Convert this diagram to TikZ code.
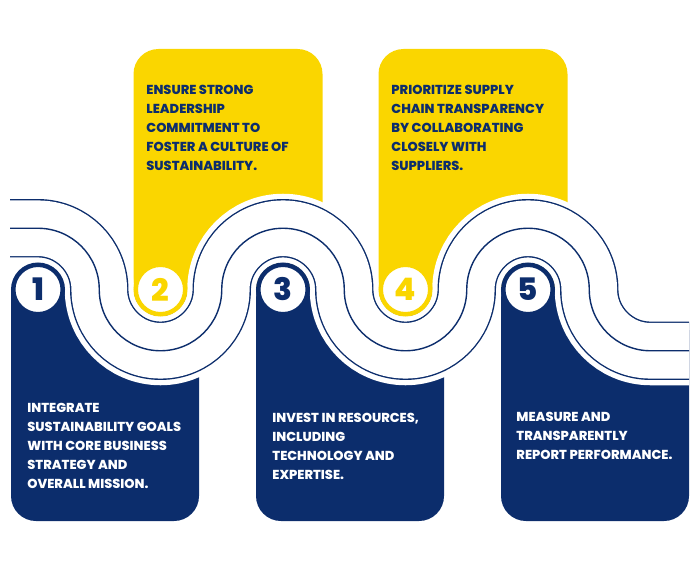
\documentclass[tikz,border=0pt]{standalone}
\usepackage{fontspec}
\setmainfont{Poppins}
\newfontfamily\heavyfont{Poppins ExtraBold}
\usepackage{tikz}
\definecolor{navy}{RGB}{12,45,108}
\definecolor{gold}{RGB}{250,214,0}

\begin{document}
\begin{tikzpicture}[x=0.5pt, y=-0.5pt,
  wave/.style={draw=navy, line width=29.2pt, line cap=butt,
    preaction={draw=white, line width=34.5pt},
    postaction={draw=white, line width=27.8pt},
    postaction={draw=navy, line width=0.7pt}},
  numdot/.style={circle, fill=white, draw=#1, text=#1, line width=2.25pt,
    minimum size=24.75pt, inner sep=0pt,
    font=\fontsize{15.5}{15.5}\heavyfont},
  steptext/.style={anchor=north west, inner sep=0pt, align=left,
    font=\fontsize{6.5}{9.5}\heavyfont}]
\useasboundingbox (0,0) rectangle (700,583);
\foreach \c in {38,283,528}
  \fill[navy] (\c-27,289.5) -- (\c+161,289.5) -- (\c+161,496)
    arc[start angle=0, end angle=90, radius=25] -- (\c-2,521)
    arc[start angle=90, end angle=180, radius=25] -- cycle;
\foreach \c in {160.5,405.5}
  \fill[gold] (\c-27,289.5) -- (\c-27,74)
    arc[start angle=180, end angle=270, radius=25] -- (\c+137,49)
    arc[start angle=270, end angle=360, radius=25] -- (\c+162,289.5) -- cycle;
\fill[white] (623.75,280) rectangle (700,330);
\path[wave] (10,228.25) -- (38,228.25)
  arc[start angle=270, end angle=360, radius=61.25]
  arc[start angle=180, end angle=0, radius=61.25]
  arc[start angle=180, end angle=360, radius=61.25]
  arc[start angle=180, end angle=0, radius=61.25]
  arc[start angle=180, end angle=360, radius=61.25]
  arc[start angle=180, end angle=90, radius=61.25] -- (689,350.75);
\foreach \c/\n/\col in {38/1/navy,160.5/2/gold,283/3/navy,405.5/4/gold,528/5/navy}
  \node[numdot=\col] (n\n) at (\c,289.5) {\n};
\node[steptext, text=white] (t1) at (27,402.5)
  {INTEGRATE\\SUSTAINABILITY GOALS\\WITH CORE BUSINESS\\STRATEGY AND\\OVERALL MISSION.};
\node[steptext, text=navy] (t2) at (146,84.5)
  {ENSURE STRONG\\LEADERSHIP\\COMMITMENT TO\\FOSTER A CULTURE OF\\SUSTAINABILITY.};
\node[steptext, text=white] (t3) at (272,412.5)
  {INVEST IN RESOURCES,\\INCLUDING\\TECHNOLOGY AND\\EXPERTISE.};
\node[steptext, text=navy] (t4) at (391,84.5)
  {PRIORITIZE SUPPLY\\CHAIN TRANSPARENCY\\BY COLLABORATING\\CLOSELY WITH\\SUPPLIERS.};
\node[steptext, text=white] (t5) at (516,411.5)
  {MEASURE AND\\TRANSPARENTLY\\REPORT PERFORMANCE.};
\end{tikzpicture}
\end{document}
